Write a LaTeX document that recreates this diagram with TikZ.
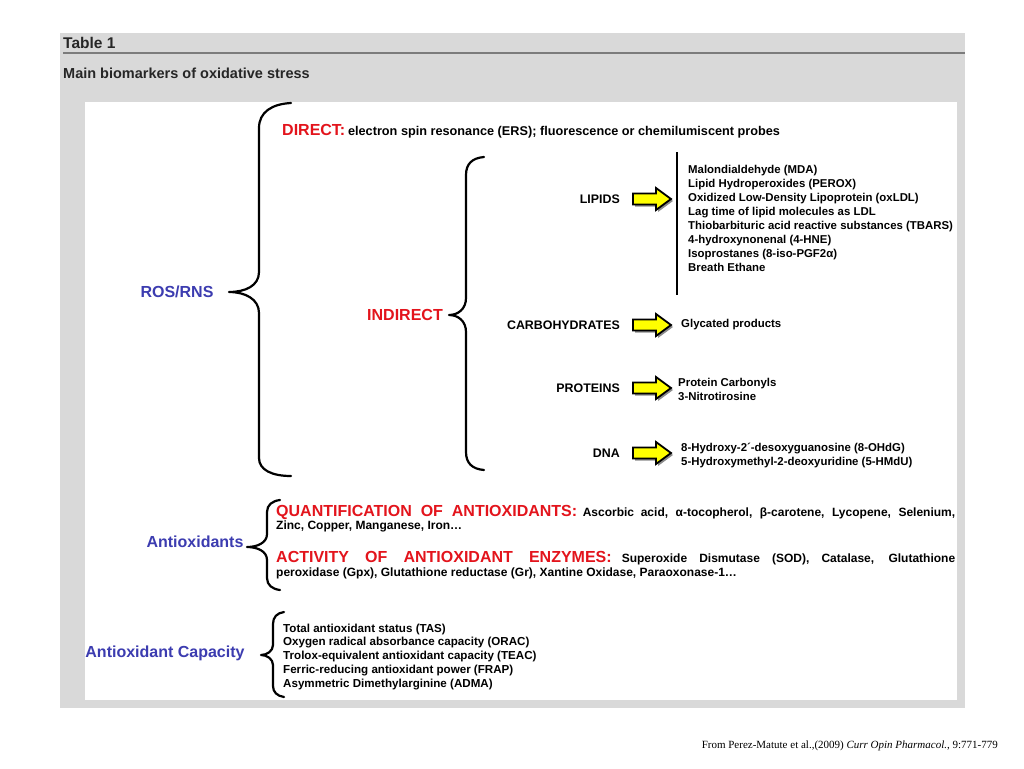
\documentclass[tikz,border=0pt]{standalone}
\usepackage{fontspec}
\setmainfont{Liberation Sans}
\newfontfamily\refserif{Liberation Serif}
\newcommand\myfs[2]{\fontsize{#1}{#2}\selectfont}
\definecolor{refblue}{HTML}{3C3CB0}
\definecolor{refred}{HTML}{E3141C}
\definecolor{panelgrey}{HTML}{D9D9D9}
\definecolor{rulegrey}{HTML}{7C7C7C}
\definecolor{titlegrey}{HTML}{262626}
\definecolor{arrowyellow}{HTML}{FFFF00}
\tikzset{
  lbl/.style={inner sep=0pt, font=\myfs{11.4}{14}\bfseries, align=left},
  para/.style={inner sep=0pt, font=\myfs{12}{14}\bfseries, anchor=west},
  head/.style={inner sep=0pt, font=\myfs{16}{18}\bfseries},
  bluelbl/.style={head, text=refblue},
  redlbl/.style={head, text=refred},
  cat/.style={inner sep=0pt, font=\myfs{12.4}{14}\bfseries, anchor=east},
  brace/.style={line width=2.2pt, line cap=round, line join=round},
  yarrow/.pic={
    \fill[black!45] (2,-3.5) -- (25,-3.5) -- (25,-9) -- (40,2) -- (25,13) -- (25,7.5) -- (2,7.5) -- cycle;
    \draw[line width=1.8pt, fill=arrowyellow, line join=miter]
      (0,-5.5) -- (23,-5.5) -- (23,-11) -- (38,0) -- (23,11) -- (23,5.5) -- (0,5.5) -- cycle;
  }
}
\begin{document}
\begin{tikzpicture}[x=1pt,y=-1pt]
\useasboundingbox (0,0) rectangle (1024,768);
% panels
\fill[panelgrey] (60,33) rectangle (965,708);
\draw[rulegrey, line width=2.5pt] (63,53) -- (965,53);
\node[inner sep=0pt, anchor=west, font=\myfs{15.5}{17}\bfseries, text=titlegrey] (tab) at (63,43) {Table 1};
\node[inner sep=0pt, anchor=west, font=\myfs{14.5}{16}\bfseries, text=titlegrey] (ttl) at (63,73) {Main biomarkers of oxidative stress};
\fill[white] (85,102) rectangle (957,700);

% ROS/RNS
\node[bluelbl] (ros) at (177,292) {ROS/RNS};
\draw[brace] (291,103) .. controls (272,104) and (259,112) .. (259,128) -- (259,272)
  .. controls (259,286) and (245,292) .. (229,292)
  .. controls (245,292) and (259,299) .. (259,313) -- (259,458)
  .. controls (259,470) and (272,476) .. (291,476);

\node[inner sep=0pt, anchor=west] (direct) at (282,131)
  {{\myfs{16}{18}\bfseries\color{refred}DIRECT:}\ {\myfs{12.7}{14}\bfseries electron spin resonance (ERS); fluorescence or chemilumiscent probes}};

% INDIRECT
\node[redlbl] (indirect) at (405,315) {INDIRECT};
\draw[brace] (484,157) .. controls (472,158) and (466,164) .. (466,175) -- (466,298)
  .. controls (466,309) and (458,315) .. (449,315)
  .. controls (458,315) and (466,321) .. (466,332) -- (466,452)
  .. controls (466,463) and (472,469) .. (484,470);

% categories
\node[cat] (lipids) at (620,199) {LIPIDS};
\node[cat] (carbo) at (620,325) {CARBOHYDRATES};
\node[cat] (prot) at (620,388) {PROTEINS};
\node[cat] (dna) at (620,453) {DNA};
\pic at (633,199) {yarrow};
\pic at (633,325) {yarrow};
\pic at (633,388) {yarrow};
\pic at (633,453) {yarrow};
\draw[line width=2pt] (677,152) -- (677,295);

\node[lbl, anchor=north west] (liplist) at (688,165.5) {Malondialdehyde (MDA)\\Lipid Hydroperoxides (PEROX)\\Oxidized Low-Density Lipoprotein (oxLDL)\\Lag time of lipid molecules as LDL\\Thiobarbituric acid reactive substances (TBARS)\\4-hydroxynonenal (4-HNE)\\Isoprostanes (8-iso-PGF2α)\\Breath Ethane};
\node[lbl, anchor=west] (glyc) at (681,325) {Glycated products};
\node[lbl, anchor=north west] (protlist) at (678,378.5) {Protein Carbonyls\\3-Nitrotirosine};
\node[lbl, anchor=north west] (dnalist) at (681,442.5) {8-Hydroxy-2´-desoxyguanosine (8-OHdG)\\5-Hydroxymethyl-2-deoxyuridine (5-HMdU)};

% Antioxidants
\node[bluelbl] (antiox) at (195,542) {Antioxidants};
\draw[brace] (280,500) .. controls (272,501) and (267,505) .. (267,512) -- (267,534)
  .. controls (267,543) and (257,547) .. (247,547)
  .. controls (257,547) and (267,551) .. (267,560) -- (267,578)
  .. controls (267,585) and (272,589) .. (280,590);
\node[inner sep=0pt, anchor=west] (quant) at (276,512)
  {\makebox[679pt][s]{{\myfs{16}{18}\bfseries\color{refred}QUANTIFICATION OF ANTIOXIDANTS:} {\myfs{12}{14}\bfseries Ascorbic acid, α-tocopherol, β-carotene, Lycopene, Selenium,}}};
\node[para] (quant2) at (276,526) {Zinc, Copper, Manganese, Iron…};
\node[inner sep=0pt, anchor=west] (activ) at (276,558)
  {\makebox[679pt][s]{{\myfs{16}{18}\bfseries\color{refred}ACTIVITY OF ANTIOXIDANT ENZYMES:} {\myfs{12}{14}\bfseries Superoxide Dismutase (SOD), Catalase, Glutathione}}};
\node[para] (activ2) at (276,573) {peroxidase (Gpx), Glutathione reductase (Gr), Xantine Oxidase, Paraoxonase-1…};

% Antioxidant capacity
\node[bluelbl] (cap) at (165,653) {Antioxidant Capacity};
\draw[brace] (284,612) .. controls (277,613) and (273,617) .. (273,624) -- (273,645)
  .. controls (273,651) and (267,655) .. (261,655)
  .. controls (267,655) and (273,659) .. (273,665) -- (273,686)
  .. controls (273,692) and (277,696) .. (284,697);
\node[lbl, anchor=north west, font=\myfs{11.6}{13.8}\bfseries] (caplist) at (283,623.5) {Total antioxidant status (TAS)\\Oxygen radical absorbance capacity (ORAC)\\Trolox-equivalent antioxidant capacity (TEAC)\\Ferric-reducing antioxidant power (FRAP)\\Asymmetric Dimethylarginine (ADMA)};

% source
\node[inner sep=0pt, anchor=east, font=\refserif\myfs{11}{13}] (src) at (998,746) {From Perez-Matute et al.,(2009) \textit{Curr Opin Pharmacol.}, 9:771-779};
\end{tikzpicture}
\end{document}
